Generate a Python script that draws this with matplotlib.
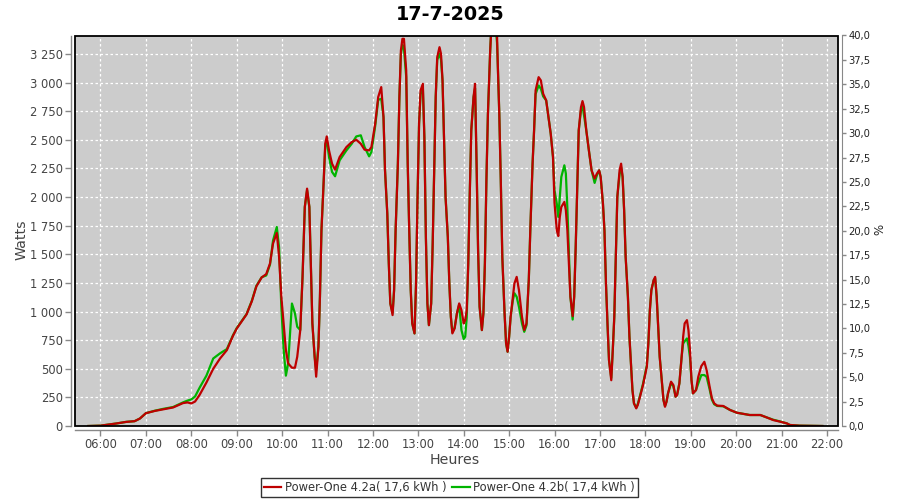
import matplotlib
matplotlib.use("Agg")
import matplotlib.pyplot as plt
from matplotlib.patches import Rectangle
from matplotlib.ticker import FixedLocator, FuncFormatter

plt.rcParams['font.family'] = ['DejaVu Sans']

title = "17-7-2025"
series_names = ["Power-One 4.2a( 17,6 kWh )", "Power-One 4.2b( 17,4 kWh )"]

times = ["5:44", "6:00", "6:10", "6:21", "6:34", "6:45", "6:52", "7:00", "7:12", "7:23",
         "7:36", "7:49", "7:55", "8:00", "8:05", "8:11", "8:20", "8:29", "8:38", "8:47",
         "8:55", "9:00", "9:13", "9:20", "9:26", "9:33", "9:39", "9:44", "9:48", "9:53",
         "9:56", "9:59", "10:02", "10:05", "10:08", "10:13", "10:17", "10:20", "10:24", "10:27",
         "10:30", "10:33", "10:36", "10:38", "10:40", "10:43", "10:45", "10:48", "10:50", "10:52",
         "10:55", "10:57", "10:59", "11:02", "11:06", "11:10", "11:16", "11:25", "11:32", "11:38",
         "11:44", "11:49", "11:55", "11:58", "12:03", "12:07", "12:11", "12:14", "12:16", "12:19",
         "12:21", "12:23", "12:26", "12:28", "12:30", "12:33", "12:35", "12:37", "12:39", "12:41",
         "12:44", "12:46", "12:48", "12:50", "12:52", "12:55", "12:57", "12:59", "13:01", "13:03",
         "13:06", "13:08", "13:10", "13:12", "13:14", "13:17", "13:19", "13:21", "13:23", "13:25",
         "13:28", "13:30", "13:32", "13:34", "13:36", "13:39", "13:41", "13:43", "13:45", "13:48",
         "13:51", "13:54", "13:57", "14:00", "14:02", "14:04", "14:06", "14:08", "14:10", "14:13",
         "14:15", "14:17", "14:19", "14:21", "14:24", "14:26", "14:28", "14:30", "14:32", "14:35",
         "14:37", "14:42", "14:44", "14:45", "14:47", "14:49", "14:51", "14:54", "14:56", "14:58",
         "15:00", "15:02", "15:05", "15:07", "15:10", "15:13", "15:17", "15:20", "15:23", "15:26",
         "15:28", "15:31", "15:33", "15:35", "15:39", "15:42", "15:45", "15:49", "15:52", "15:55",
         "15:58", "16:00", "16:03", "16:05", "16:07", "16:09", "16:13", "16:15", "16:17", "16:19",
         "16:21", "16:24", "16:26", "16:28", "16:30", "16:32", "16:35", "16:37", "16:39", "16:42",
         "16:46", "16:49", "16:53", "16:56", "16:59", "17:01", "17:04", "17:06", "17:08", "17:10",
         "17:12", "17:15", "17:17", "17:19", "17:21", "17:23", "17:26", "17:28", "17:30", "17:32",
         "17:34", "17:37", "17:39", "17:41", "17:43", "17:45", "17:48", "17:50", "17:53", "17:57",
         "18:02", "18:04", "18:06", "18:08", "18:11", "18:13", "18:15", "18:17", "18:19", "18:22",
         "18:24", "18:26", "18:28", "18:30", "18:34", "18:37", "18:40", "18:42", "18:45", "18:48",
         "18:50", "18:52", "18:55", "18:57", "18:59", "19:01", "19:03", "19:07", "19:10", "19:14",
         "19:18", "19:21", "19:25", "19:28", "19:31", "19:35", "19:43", "19:52", "20:01", "20:10",
         "20:18", "20:32", "20:40", "20:49", "20:58", "21:07", "21:11", "21:24", "21:54"]

watts_a = [0, 3, 12, 22, 36, 42, 65, 112, 132, 146,
           162, 200, 206, 197, 214, 272, 380, 500, 590, 663,
           787, 851, 975, 1090, 1220, 1298, 1327, 1420, 1594, 1687,
           1477, 1128, 898, 663, 547, 509, 509, 605, 838, 1303,
           1914, 2074, 1914, 1420, 898, 605, 431, 692, 1128, 1710,
           2147, 2467, 2530, 2408, 2292, 2240, 2350, 2437, 2481, 2501,
           2466, 2414, 2408, 2437, 2641, 2874, 2961, 2699, 2234, 1856,
           1420, 1071, 969, 1187, 1710, 2292, 2874, 3281, 3383, 3383,
           3106, 2292, 1710, 1187, 896, 809, 1245, 2001, 2641, 2932,
           2990, 2524, 1652, 1071, 881, 1071, 1594, 2234, 2874, 3223,
           3310, 3252, 3019, 2495, 2001, 1652, 1245, 954, 809, 852,
           983, 1071, 1012, 896, 925, 1012, 1420, 2030, 2583, 2874,
           2990, 2292, 1536, 1042, 838, 983, 1420, 2147, 2729, 3281,
           3550, 3550, 3420, 3165, 2729, 2147, 1478, 983, 722, 649,
           780, 954, 1129, 1245, 1303, 1187, 954, 838, 896, 1274,
           1710, 2292, 2583, 2932, 3048, 3019, 2903, 2845, 2699, 2554,
           2350, 1950, 1710, 1660, 1827, 1914, 1958, 1885, 1710, 1420,
           1129, 960, 1129, 1565, 2060, 2583, 2787, 2839, 2787, 2583,
           2379, 2234, 2162, 2205, 2234, 2176, 1943, 1710, 1245, 896,
           576, 400, 663, 954, 1478, 2001, 2234, 2292, 2176, 1885,
           1478, 1129, 780, 547, 314, 198, 154, 183, 256, 359,
           518, 721, 1012, 1187, 1274, 1303, 1129, 867, 605, 372,
           227, 168, 212, 285, 387, 359, 256, 271, 372, 605,
           780, 896, 925, 838, 663, 402, 285, 314, 430, 523,
           561, 489, 343, 242, 198, 178, 175, 140, 116, 105,
           96, 96, 76, 52, 38, 23, 9, 3, 0]

watts_b = [0, 3, 12, 22, 36, 42, 65, 112, 134, 150,
           166, 206, 222, 232, 258, 335, 440, 590, 635, 672,
           792, 855, 978, 1095, 1225, 1300, 1315, 1410, 1620, 1739,
           1560, 1041, 669, 440, 547, 1070, 984, 867, 838, 1303,
           1914, 2060, 1914, 1420, 898, 605, 489, 692, 1128, 1710,
           2147, 2440, 2500, 2350, 2220, 2182, 2321, 2408, 2466, 2530,
           2540, 2437, 2356, 2394, 2620, 2850, 2859, 2699, 2234, 1856,
           1420, 1071, 990, 1187, 1710, 2292, 2874, 3250, 3330, 3300,
           3050, 2292, 1710, 1187, 896, 809, 1245, 2001, 2641, 2900,
           2950, 2524, 1652, 1071, 881, 1071, 1594, 2234, 2874, 3200,
           3250, 3200, 3019, 2495, 2001, 1652, 1245, 954, 820, 860,
           983, 1060, 838, 760, 780, 950, 1420, 2030, 2583, 2874,
           2950, 2292, 1536, 1042, 838, 983, 1420, 2147, 2729, 3281,
           3550, 3500, 3350, 3165, 2729, 2147, 1478, 983, 722, 649,
           780, 954, 1100, 1160, 1129, 1042, 896, 823, 880, 1274,
           1710, 2292, 2583, 2900, 2975, 2946, 2880, 2845, 2699, 2554,
           2350, 2060, 1943, 1827, 2001, 2176, 2278, 2205, 1900, 1500,
           1129, 930, 1129, 1565, 2060, 2583, 2760, 2790, 2714, 2583,
           2379, 2234, 2124, 2190, 2234, 2176, 1943, 1710, 1245, 896,
           576, 420, 663, 954, 1478, 2001, 2200, 2260, 2176, 1885,
           1478, 1129, 780, 547, 314, 198, 160, 190, 265, 370,
           530, 721, 1012, 1187, 1274, 1290, 1129, 867, 605, 372,
           227, 175, 212, 285, 375, 350, 256, 271, 372, 605,
           720, 740, 765, 700, 600, 402, 285, 314, 372, 445,
           445, 430, 320, 230, 190, 175, 172, 140, 116, 105,
           96, 96, 76, 55, 40, 23, 9, 3, 0]

left_ticks = [0, 250, 500, 750, 1000, 1250, 1500, 1750, 2000, 2250, 2500, 2750, 3000, 3250]
right_ticks = [0, 2.5, 5, 7.5, 10, 12.5, 15, 17.5, 20, 22.5, 25, 27.5, 30, 32.5, 35, 37.5, 40]
hour_ticks = list(range(6, 23))


def to_hours(s):
    h, m = s.split(":")
    return int(h) + int(m) / 60.0


x = [to_hours(t) for t in times]

fig = plt.figure(figsize=(9, 5), dpi=100)
ax = fig.add_axes([75.3 / 900, 1 - 426 / 500, (837.5 - 75.3) / 900, (426 - 35.5) / 500])
ax.set_facecolor("#CCCCCC")

red = "#BE0000"
green = "#00B400"
l2, = ax.plot(x, watts_b, color=green, lw=1.6, label=series_names[1], zorder=3)
l1, = ax.plot(x, watts_a, color=red, lw=1.6, label=series_names[0], zorder=4)

ax.set_xlim(5.445, 22.233)
ax.set_ylim(0, 3412)

ax.xaxis.set_major_locator(FixedLocator(hour_ticks))
ax.xaxis.set_major_formatter(FuncFormatter(lambda v, p: "%02d:00" % int(round(v))))
ax.yaxis.set_major_locator(FixedLocator(left_ticks))
ax.yaxis.set_major_formatter(FuncFormatter(lambda v, p: f"{int(v):,}".replace(",", " ")))

ax.grid(True, color="white", linestyle=(0, (2, 2)), linewidth=0.9, zorder=1)
ax.set_axisbelow(True)

axis_grey = "#888888"
for side in ["top", "right"]:
    ax.spines[side].set_visible(False)
for side in ["left", "bottom"]:
    ax.spines[side].set_position(("outward", 3))
    ax.spines[side].set_color(axis_grey)
    ax.spines[side].set_linewidth(1.0)

ax.tick_params(axis="both", colors=axis_grey, length=4, width=1.0, labelcolor="#444444",
               labelsize=8.3, pad=2)

ax.add_patch(Rectangle((0, 0), 1, 1, transform=ax.transAxes, fill=False,
                       edgecolor="black", lw=1.3, zorder=10, clip_on=False))

ax2 = ax.twinx()
ax2.set_ylim(0, 40)
ax2.yaxis.set_major_locator(FixedLocator(right_ticks))
ax2.yaxis.set_major_formatter(FuncFormatter(lambda v, p: f"{v:.1f}".replace(".", ",")))
for side in ["top", "left", "bottom"]:
    ax2.spines[side].set_visible(False)
ax2.spines["right"].set_position(("outward", 3))
ax2.spines["right"].set_color(axis_grey)
ax2.tick_params(axis="y", colors=axis_grey, length=3, width=1.0, labelcolor="#222222",
                labelsize=7.2, pad=2)

fig.text(0.5, 1 - 14 / 500, title, ha="center", va="center", fontsize=13.8,
         fontweight="bold", color="black")
fig.text(22 / 900, 1 - 240 / 500, "Watts", rotation=90, ha="center", va="center",
         fontsize=10.2, color="#444444")
fig.text(455 / 900, 1 - 460 / 500, "Heures", ha="center", va="center",
         fontsize=10.2, color="#444444")
fig.text(880 / 900, 1 - 229 / 500, "%", rotation=90, ha="center", va="center",
         fontsize=8.5, color="#222222")

leg = fig.legend(handles=[l1, l2], labels=series_names, loc="center",
                 bbox_to_anchor=(449.5 / 900, 1 - 487.5 / 500), ncol=2, fontsize=8.3,
                 frameon=True, fancybox=False, edgecolor="black", handlelength=1.5,
                 handletextpad=0.3, columnspacing=0.5, borderpad=0.3, borderaxespad=0)
leg.get_frame().set_linewidth(1.0)
for t in leg.get_texts():
    t.set_color("#333333")

fig.savefig("out.png", dpi=100, facecolor="white")
